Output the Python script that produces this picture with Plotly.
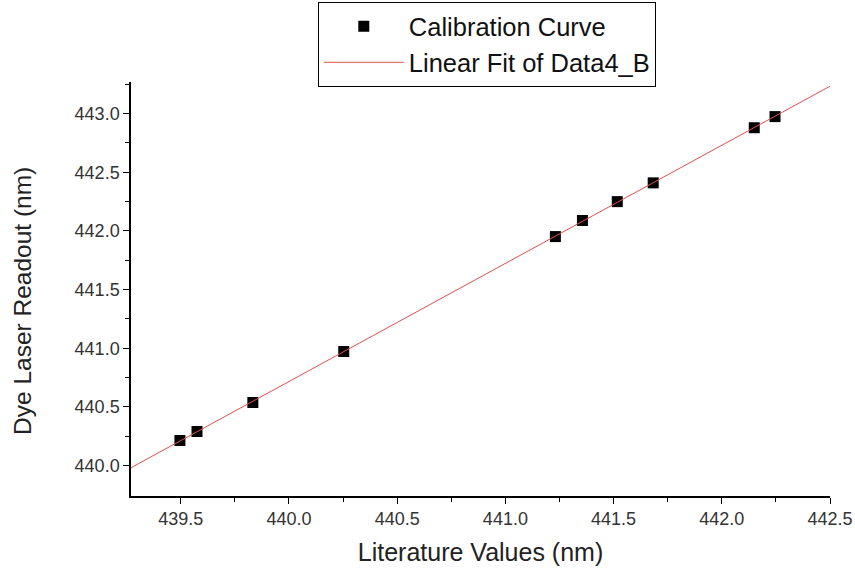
import numpy as np
import plotly.graph_objects as go

lit_values = [439.496, 439.575, 439.833, 440.253, 441.231, 441.356, 441.517, 441.683, 442.150, 442.246]
dye_readout = [440.213, 440.290, 440.537, 440.972, 441.952, 442.089, 442.250, 442.410, 442.880, 442.975]
x_range = [439.27, 442.5]
y_range = [439.74, 443.27]
x_ticks = [439.5, 440.0, 440.5, 441.0, 441.5, 442.0, 442.5]
y_ticks = [440.0, 440.5, 441.0, 441.5, 442.0, 442.5, 443.0]

slope, intercept = np.polyfit(lit_values, dye_readout, 1)
fit_x = np.array(x_range)
fit_y = slope * fit_x + intercept

fig = go.Figure()
fig.add_trace(go.Scatter(x=lit_values, y=dye_readout, mode="markers",
                         marker=dict(symbol="square", size=11, color="black"),
                         name="Calibration Curve"))
fig.add_trace(go.Scatter(x=fit_x, y=fit_y, mode="lines",
                         line=dict(color="#e05050", width=1),
                         name="Linear Fit of Data4_B"))

font = "Liberation Sans, Arial, sans-serif"
fig.update_layout(
    width=855, height=571,
    margin=dict(l=131, r=25, t=82, b=75, autoexpand=False),
    plot_bgcolor="white", paper_bgcolor="white",
    font=dict(family=font, color="#222"),
    legend=dict(x=0.509, y=1.193, xanchor="center", yanchor="top",
                bordercolor="black", borderwidth=1,
                font=dict(size=25.5, color="#111"), bgcolor="white",
                itemwidth=80),
    xaxis=dict(range=x_range, tickvals=x_ticks, ticktext=[f"{v:.1f}" for v in x_ticks],
               showgrid=False, zeroline=False, showline=True, linecolor="black", linewidth=1.5,
               ticks="outside", ticklen=6, tickcolor="black", tickwidth=1,
               minor=dict(tickvals=[v + 0.25 for v in [439.0] + x_ticks[:-1]], ticks="outside",
                          ticklen=4, tickcolor="black"),
               tickfont=dict(size=18, color="#333"),
               title=dict(text="Literature Values (nm)", font=dict(size=25, color="#222"), standoff=15)),
    yaxis=dict(range=y_range, tickvals=y_ticks, ticktext=[f"{v:.1f}" for v in y_ticks],
               showgrid=False, zeroline=False, showline=True, linecolor="black", linewidth=1.5,
               ticks="outside", ticklen=6, tickcolor="black", tickwidth=1,
               minor=dict(tickvals=[v + 0.25 for v in y_ticks], ticks="outside",
                          ticklen=4, tickcolor="black"),
               tickfont=dict(size=18, color="#333")),
    annotations=[dict(text="Dye Laser Readout (nm)", textangle=-90, showarrow=False,
                      xref="paper", yref="paper", x=-(131 - 22) / 699, y=(496 - 301) / 414,
                      xanchor="center", yanchor="middle",
                      font=dict(size=24.5, color="#222"))],
)
fig.write_html("out.html")
